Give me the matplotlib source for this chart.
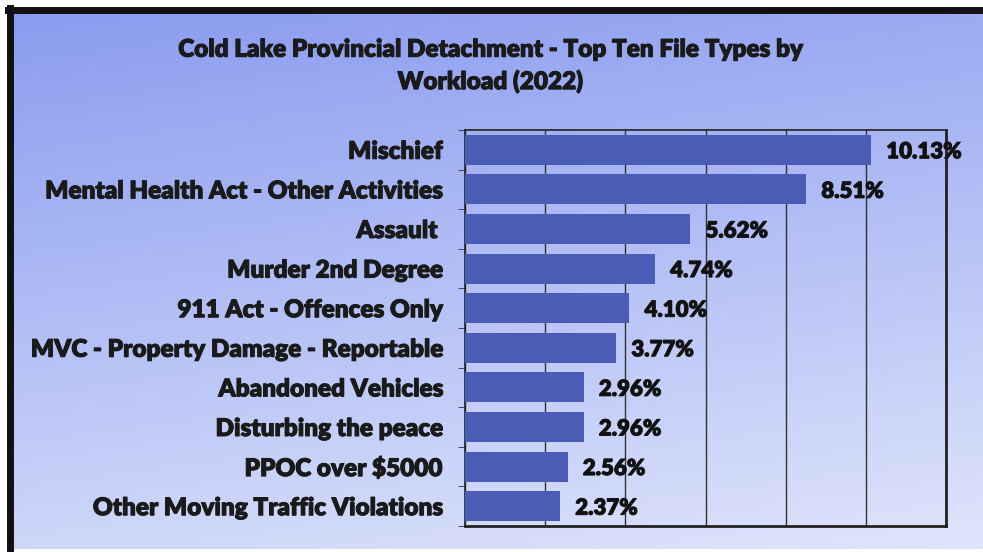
import numpy as np
import matplotlib
matplotlib.use("Agg")
import matplotlib.pyplot as plt
import matplotlib.patheffects as pe
from matplotlib.colors import LinearSegmentedColormap

title = "Cold Lake Provincial Detachment - Top Ten File Types by\nWorkload (2022)"
categories = ["Mischief", "Mental Health Act - Other Activities", "Assault ",
              "Murder 2nd Degree", "911 Act - Offences Only",
              "MVC - Property Damage - Reportable", "Abandoned Vehicles",
              "Disturbing the peace", "PPOC over $5000",
              "Other Moving Traffic Violations"]
values = [10.13, 8.51, 5.62, 4.74, 4.10, 3.77, 2.96, 2.96, 2.56, 2.37]
labels = ["10.13%", "8.51%", "5.62%", "4.74%", "4.10%", "3.77%", "2.96%",
          "2.96%", "2.56%", "2.37%"]

plt.rcParams['font.family'] = ['Lato', 'DejaVu Sans']
thick = [pe.withStroke(linewidth=0.7, foreground="#1a1a1a")]

W, H = 983, 552
fig = plt.figure(figsize=(W / 100, H / 100), dpi=100)
fig.patch.set_facecolor("white")

# gradient background panel
bg = fig.add_axes([8 / W, 3 / H, 1 - 8 / W, (H - 11) / H])
yy, xx = np.mgrid[0:1:200j, 0:1:300j]
t = 0.8 * yy + 0.2 * xx
cmap = LinearSegmentedColormap.from_list("bg", ["#8a9bef", "#b4c0f6", "#dfe5fb"])
bg.imshow(t, cmap=cmap, aspect="auto", extent=[0, 1, 0, 1], origin="upper")
bg.set_axis_off()
# black border top and left
fig.add_artist(plt.Line2D([8 / W, 1], [1 - 10 / H, 1 - 10 / H], color="#111111", lw=5))
fig.add_artist(plt.Line2D([10 / W, 10 / W], [3 / H, 1 - 8 / H], color="#111111", lw=5))

fig.text(490 / W, 1 - 66 / H, title, ha="center", va="center", fontsize=17.5,
         fontweight="heavy", color="#1a1a1a", linespacing=1.45, path_effects=thick)

ax = fig.add_axes([465 / W, 26 / H, 481 / W, 396 / H])
ax.patch.set_alpha(0)
y = np.arange(len(categories))
ax.barh(y, values, height=0.76, color="#4a5cb5", zorder=3)
for yi, v, lab in zip(y, values, labels):
    ax.text(v + 0.38, yi + 0.05, lab, va="center", ha="left", fontsize=16,
            fontweight="heavy", color="#111111", zorder=4, path_effects=thick)

ax.set_xlim(0, 12)
ax.set_ylim(len(categories) - 0.5, -0.5)
ax.set_xticks([0, 2, 4, 6, 8, 10, 12])
ax.xaxis.grid(True, color="#333333", lw=1)
ax.set_axisbelow(True)
ax.tick_params(axis="x", length=0, labelbottom=False)
ax.set_yticks(y)
ax.set_yticklabels(categories, fontsize=17.5, fontweight="heavy", color="#1a1a1a",
                   path_effects=thick)
ax.tick_params(axis="y", which="major", length=0, pad=16)
ax.set_yticks(np.arange(-0.5, len(categories)), minor=True)
ax.tick_params(axis="y", which="minor", length=5, color="#333333")
for s in ax.spines.values():
    s.set_color("#222222")
    s.set_linewidth(1.2)
ax.spines["bottom"].set_linewidth(2)
ax.spines["right"].set_linewidth(2)

fig.savefig("out.png", dpi=100)
